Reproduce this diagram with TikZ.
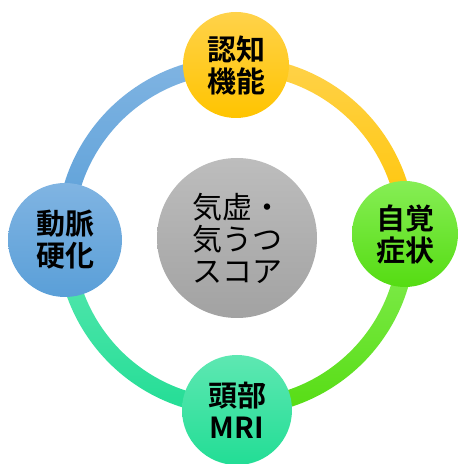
\documentclass[tikz,border=0pt]{standalone}
\usepackage{fontspec}
\newfontfamily\cjk{Noto Sans CJK JP}[BoldFont={Noto Sans CJK JP Bold}]
\definecolor{yelT}{HTML}{FFD24A}
\definecolor{yelB}{HTML}{FFC400}
\definecolor{bluT}{HTML}{80B4E2}
\definecolor{bluB}{HTML}{5A9FD8}
\definecolor{grnT}{HTML}{86EE55}
\definecolor{grnB}{HTML}{55DC12}
\definecolor{tealT}{HTML}{5EE8B2}
\definecolor{tealB}{HTML}{22DD95}
\definecolor{gryT}{HTML}{BDBDBD}
\definecolor{gryB}{HTML}{A2A2A2}
\begin{document}
\begin{tikzpicture}[x=1pt,y=1pt,
  ball/.style={circle,inner sep=0pt,align=center,text=black,
    font=\cjk\bfseries\fontsize{29}{32}\selectfont},
  hub/.style={circle,inner sep=0pt,align=center,text=black,
    font=\cjk\fontsize{30}{32}\selectfont}]
\useasboundingbox (0,0) rectangle (459,464);
\coordinate (c) at (236,228);
\def\Ro{179.5}
\def\Ri{162.5}
% ring segments
\shade[top color=yelT,bottom color=yelB,shift={(c)}]
  (0:\Ro) arc[start angle=0,end angle=90,radius=\Ro] -- (90:\Ri)
  arc[start angle=90,end angle=0,radius=\Ri] -- cycle;
\shade[top color=bluT,bottom color=bluB,shift={(c)}]
  (90:\Ro) arc[start angle=90,end angle=180,radius=\Ro] -- (180:\Ri)
  arc[start angle=180,end angle=90,radius=\Ri] -- cycle;
\shade[top color=tealT,bottom color=tealB,shift={(c)}]
  (180:\Ro) arc[start angle=180,end angle=270,radius=\Ro] -- (270:\Ri)
  arc[start angle=270,end angle=180,radius=\Ri] -- cycle;
\shade[top color=grnT,bottom color=grnB,shift={(c)}]
  (270:\Ro) arc[start angle=270,end angle=360,radius=\Ro] -- (360:\Ri)
  arc[start angle=360,end angle=270,radius=\Ri] -- cycle;
% nodes
\node[ball,minimum size=106pt,top color=yelT,bottom color=yelB] (ninchi) at (236,399) {認知\\機能};
\node[ball,minimum size=114pt,top color=bluT,bottom color=bluB] (domyaku) at (65,224) {動脈\\硬化};
\node[ball,minimum size=106pt,top color=grnT,bottom color=grnB] (jikaku) at (405,230) {自覚\\症状};
\node[ball,minimum size=110pt,top color=tealT,bottom color=tealB] (tobu) at (237,54) {頭部\\MRI};
\node[hub,minimum size=160pt,top color=gryT,bottom color=gryB] (score) at (237,226) {気虚・\\気うつ\\スコア};
\end{tikzpicture}
\end{document}
